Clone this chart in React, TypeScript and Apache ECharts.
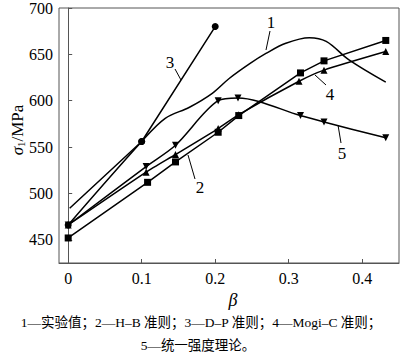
import React, { useEffect, useRef } from "react";
import * as echarts from "echarts";

// Data (x = β, y = σ1 / MPa)
const xTicks = [0, 0.1, 0.2, 0.3, 0.4];
const yTicks = [450, 500, 550, 600, 650, 700];

// 1 — 实验值 (experimental)
const s1X = [0, 0.1, 0.132, 0.165, 0.196, 0.219, 0.247, 0.269, 0.296, 0.328, 0.351, 0.382, 0.432];
const s1Y = [466, 556, 581, 593, 608, 624, 640, 651, 662, 668, 664, 644, 620];
const s1Marked = [true, true, false, false, false, false, false, false, false, false, false, false, false];

// 2 — H-B
const s2X = [0, 0.108, 0.146, 0.204, 0.232, 0.316, 0.348, 0.432];
const s2Y = [452, 512, 534, 566, 584, 630, 643, 665];

// 3 — D-P
const s3X = [0.002, 0.1, 0.2];
const s3Y = [484, 556, 680];
const s3Marked = [false, true, true];

// 4 — Mogi-C
const s4X = [0, 0.106, 0.146, 0.204, 0.232, 0.314, 0.348, 0.432];
const s4Y = [466, 523, 542, 570, 585, 621, 633, 653];

// 5 — 统一强度理论
const s5X = [0, 0.106, 0.146, 0.204, 0.231, 0.316, 0.348, 0.432];
const s5Y = [466, 529, 552, 600, 603, 584, 577, 560];

const caption1 = "1—实验值；2—H–B 准则；3—D–P 准则；4—Mogi–C 准则；";
const caption2 = "5—统一强度理论。";

const SERIF = "'Liberation Serif', 'Times New Roman', 'Noto Sans CJK SC', serif";

function pairs(xs: number[], ys: number[], marked?: boolean[]) {
  return xs.map((x, i) =>
    marked && !marked[i] ? { value: [x, ys[i]], symbol: "none" } : { value: [x, ys[i]] }
  );
}

export default function App() {
  const ref = useRef<HTMLDivElement>(null);
  useEffect(() => {
    if (!ref.current) return;
    const chart = echarts.init(ref.current, null, { renderer: "svg" });
    const lineBase = {
      type: "line" as const,
      lineStyle: { color: "#000", width: 1.5 },
      itemStyle: { color: "#000" },
      symbolSize: 7,
      showSymbol: true,
      z: 3,
    };
    const labelText = (text: string, x: number, y: number) => ({
      type: "text",
      x,
      y,
      style: { text, font: `17px ${SERIF}`, fill: "#000", textAlign: "center", textVerticalAlign: "middle" },
    });
    const leader = (x1: number, y1: number, x2: number, y2: number) => ({
      type: "line",
      shape: { x1, y1, x2, y2 },
      style: { stroke: "#000", lineWidth: 1 },
    });
    chart.setOption({
      animation: false,
      backgroundColor: "#fff",
      grid: { left: 59, top: 4, right: 1, bottom: 96, show: true, borderColor: "#555", borderWidth: 1 },
      xAxis: {
        type: "value",
        min: -0.0125,
        max: 0.45,
        splitLine: { show: false },
        axisLine: { lineStyle: { color: "#555", width: 1 } },
        axisTick: { inside: true, length: 4, customValues: xTicks, lineStyle: { color: "#555" } },
        axisLabel: {
          customValues: xTicks,
          margin: 7,
          color: "#000",
          fontFamily: SERIF,
          fontSize: 16,
          formatter: (v: number) => (v === 0 ? "0" : v.toFixed(1)),
        },
      },
      yAxis: {
        type: "value",
        min: 425,
        max: 700,
        splitLine: { show: false },
        axisLine: { lineStyle: { color: "#555", width: 1 } },
        axisTick: { inside: true, length: 4, customValues: yTicks, lineStyle: { color: "#555" } },
        axisLabel: { customValues: yTicks, margin: 6, color: "#000", fontFamily: SERIF, fontSize: 16 },
      },
      series: [
        { ...lineBase, name: "1", smooth: 0.35, symbol: "circle", data: pairs(s1X, s1Y, s1Marked) },
        { ...lineBase, name: "2", symbol: "rect", symbolSize: 7, data: pairs(s2X, s2Y) },
        { ...lineBase, name: "3", symbol: "circle", data: pairs(s3X, s3Y, s3Marked) },
        { ...lineBase, name: "4", smooth: 0.2, symbol: "triangle", symbolSize: 7, data: pairs(s4X, s4Y) },
        { ...lineBase, name: "5", smooth: 0.3, symbol: "triangle", symbolRotate: 180, symbolSize: 7, data: pairs(s5X, s5Y) },
      ],
      graphic: [
        // y axis title
        {
          type: "text",
          x: 17,
          y: 130,
          rotation: Math.PI / 2,
          style: {
            text: "{s|σ}{sub|1}{n|/MPa}",
            textAlign: "center",
            textVerticalAlign: "middle",
            rich: {
              s: { font: `italic 17px ${SERIF}`, fill: "#000" },
              sub: { font: `11px ${SERIF}`, fill: "#000", padding: [8, 0, 0, 0] },
              n: { font: `17px ${SERIF}`, fill: "#000" },
            },
          },
        },
        // x axis title
        {
          type: "text",
          x: 233,
          y: 300,
          style: { text: "β", font: `italic 18px ${SERIF}`, fill: "#000", textAlign: "center", textVerticalAlign: "middle" },
        },
        // captions
        {
          type: "text",
          x: 201,
          y: 322,
          style: { text: caption1, font: `13.5px ${SERIF}`, fill: "#000", textAlign: "center", textVerticalAlign: "middle" },
        },
        {
          type: "text",
          x: 198,
          y: 345,
          style: { text: caption2, font: `13.5px ${SERIF}`, fill: "#000", textAlign: "center", textVerticalAlign: "middle" },
        },
        // curve labels and leaders
        labelText("1", 271, 22),
        leader(270, 31, 266, 50),
        labelText("3", 170, 62),
        leader(175, 69, 181, 80),
        labelText("4", 330, 94),
        leader(326, 85, 315, 75),
        labelText("5", 342, 153),
        leader(341, 143, 338, 125),
        labelText("2", 200, 187),
        leader(195, 179, 188, 155),
      ],
    });
    return () => chart.dispose();
  }, []);
  return <div ref={ref} style={{ width: 400, height: 359, position: "absolute", left: 0, top: 0 }} />;
}
